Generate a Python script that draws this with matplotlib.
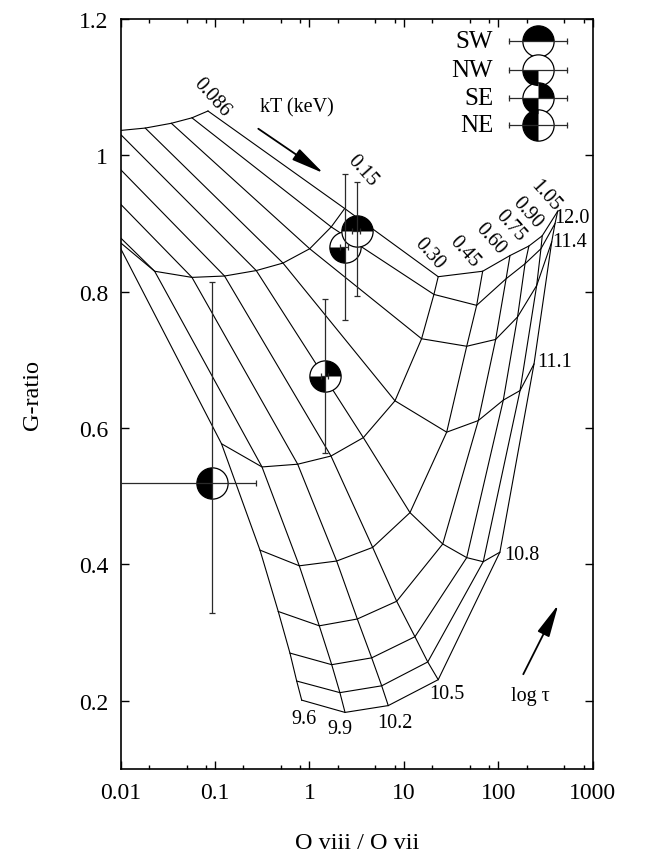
import matplotlib
matplotlib.use('Agg')
import matplotlib.pyplot as plt
from matplotlib.path import Path
from matplotlib.ticker import FixedLocator, FixedFormatter, LogLocator, NullFormatter

plt.rcParams['font.family'] = ['Liberation Serif', 'DejaVu Serif']

# NEI model grid: rows = kT (keV), columns = log tau
kT_labels = ['0.086', '0.15', '0.30', '0.45', '0.60', '0.75', '0.90', '1.05']
logtau = [9.6, 9.9, 10.2, 10.5, 10.8, 11.1, 11.4, 11.7, 12.0]
logtau_labels = ['9.6', '9.9', '10.2', '10.5', '10.8', '11.1', '11.4', '', '12.0']

# O VIII / O VII ratio at each grid node
model_ratio = [
    [0.00228, 0.00473, 0.00534, 0.00604, 0.00914, 0.0182, 0.0344, 0.0569, 0.0841],
    [0.00881, 0.0229, 0.0569, 0.126, 0.273, 0.524, 1.005, 1.70, 2.36],
    [0.117, 0.314, 0.750, 1.69, 3.72, 8.05, 15.4, 20.8, 23.1],
    [0.299, 0.780, 1.94, 4.67, 11.6, 28.4, 46.3, 59.0, 68.3],
    [0.467, 1.27, 3.21, 8.39, 25.8, 61.4, 93.8, 121.0, 133.0],
    [0.621, 1.72, 4.56, 13.1, 46.3, 113.0, 160.0, 192.0, 211.0],
    [0.732, 2.10, 5.82, 17.9, 69.3, 170.0, 255.0, 283.0, 292.0],
    [0.827, 2.38, 6.83, 23.1, 104.0, 239.0, 368.0, 399.0, 426.0],
]
# G-ratio at each grid node
model_g = [
    [0.900, 0.923, 0.967, 1.010, 1.036, 1.040, 1.047, 1.055, 1.065],
    [0.878, 0.830, 0.821, 0.823, 0.831, 0.842, 0.863, 0.895, 0.922],
    [0.577, 0.543, 0.547, 0.559, 0.586, 0.640, 0.731, 0.796, 0.822],
    [0.421, 0.398, 0.405, 0.425, 0.476, 0.594, 0.720, 0.780, 0.830],
    [0.331, 0.310, 0.320, 0.346, 0.430, 0.611, 0.730, 0.819, 0.853],
    [0.270, 0.253, 0.263, 0.294, 0.410, 0.641, 0.763, 0.841, 0.867],
    [0.229, 0.212, 0.222, 0.257, 0.404, 0.655, 0.809, 0.863, 0.882],
    [0.201, 0.183, 0.193, 0.231, 0.418, 0.694, 0.873, 0.900, 0.918],
]

# observed regions
regions = ['SW', 'NW', 'SE', 'NE']
obs_ratio = [3.16, 2.38, 1.46, 0.093]
obs_ratio_lo = [2.80, 2.10, 1.34, 0.004]
obs_ratio_hi = [3.43, 2.58, 1.58, 0.269]
obs_g = [0.889, 0.866, 0.677, 0.520]
obs_g_lo = [0.794, 0.759, 0.564, 0.329]
obs_g_hi = [0.961, 0.973, 0.789, 0.814]
# filled parts of each symbol (wedge angles in degrees)
region_fill = {
    'SW': [(0, 180)],
    'NW': [(180, 270)],
    'SE': [(0, 90), (180, 270)],
    'NE': [(90, 270)],
}

MS = 22.5
ECOL = '#2a2a2a'


def draw_symbol(ax, x, y, name, z, **kw):
    ax.plot([x], [y], 'o', ms=MS, mfc='white', mec='black', mew=0.9,
            zorder=z, **kw)
    for t1, t2 in region_fill[name]:
        ax.plot([x], [y], marker=Path.wedge(t1, t2), ms=MS, color='black',
                mew=0, ls='none', zorder=z + 0.1, **kw)


fig = plt.figure(figsize=(6.45, 8.53), dpi=100)
ax = fig.add_axes([0.1871, 0.0973, 0.7318, 0.8793])
ax.set_xscale('log')
ax.set_xlim(0.01, 1000)
ax.set_ylim(0.1, 1.2)

# grid lines: constant kT and constant tau
for i in range(len(kT_labels)):
    ax.plot(model_ratio[i], model_g[i], color='black', lw=0.8, zorder=2)
for j in range(len(logtau)):
    xs = [row[j] for row in model_ratio]
    ys = [row[j] for row in model_g]
    ax.plot(xs, ys, color='black', lw=0.8, zorder=2)

# kT labels along the equilibrium edge
kT_text_pos = [(0.0927, 1.086), (3.60, 0.979), (18.5, 0.856), (43.3, 0.860),
               (81.7, 0.878), (133, 0.897), (201, 0.917), (313, 0.942)]
for lab, (tx, ty) in zip(kT_labels, kT_text_pos):
    ax.text(tx, ty, lab, fontsize=14.5, rotation=-48, ha='center', va='center',
            rotation_mode='anchor')

# log tau labels along the hottest curve
tau_text_pos = [(0.875, 0.174), (2.10, 0.160), (8.05, 0.168), (28.4, 0.21),
                (177, 0.414), (399, 0.697), (575, 0.873), None, (600, 0.909)]
for lab, pos in zip(logtau_labels, tau_text_pos):
    if pos is None:
        continue
    ax.text(pos[0], pos[1], lab, fontsize=14.5, ha='center', va='center')

# arrows and their captions
ax.annotate('', xy=(1.40, 0.974), xytext=(0.287, 1.039),
            arrowprops=dict(arrowstyle='-|>,head_length=1.0,head_width=0.2',
                            mutation_scale=20, color='black', lw=1.3,
                            shrinkA=0, shrinkB=0))
ax.text(0.738, 1.071, 'kT (keV)', fontsize=14.5, ha='center', va='center')
ax.annotate('', xy=(432, 0.341), xytext=(184, 0.239),
            arrowprops=dict(arrowstyle='-|>,head_length=1.0,head_width=0.2',
                            mutation_scale=20, color='black', lw=1.3,
                            shrinkA=0, shrinkB=0))
ax.text(217, 0.2085, 'log τ', fontsize=14.5, ha='center', va='center')

# data points (drawn so that SW ends on top)
order = ['NE', 'SE', 'NW', 'SW']
for k, name in enumerate(order):
    i = regions.index(name)
    draw_symbol(ax, obs_ratio[i], obs_g[i], name, 5 + k)
for i in range(len(regions)):
    ax.errorbar([obs_ratio[i]], [obs_g[i]],
                xerr=[[obs_ratio[i] - obs_ratio_lo[i]], [obs_ratio_hi[i] - obs_ratio[i]]],
                yerr=[[obs_g[i] - obs_g_lo[i]], [obs_g_hi[i] - obs_g[i]]],
                fmt='none', ecolor=ECOL, elinewidth=0.9, capsize=2.5,
                capthick=0.9, zorder=10)

# legend drawn by hand
leg_y = [0.970, 0.932, 0.895, 0.858]
for name, ly in zip(regions, leg_y):
    ax.text(0.789, ly, name, transform=ax.transAxes, fontsize=18,
            ha='right', va='center')
    draw_symbol(ax, 0.884, ly, name, 12, transform=ax.transAxes, clip_on=False)
    ax.plot([0.822, 0.945], [ly, ly], color=ECOL, lw=0.9,
            transform=ax.transAxes, zorder=14)
    ax.plot([0.822, 0.945], [ly, ly], ls='none', marker='|', ms=5, mew=0.9,
            color=ECOL, transform=ax.transAxes, zorder=14)

# axes cosmetics
ax.xaxis.set_major_locator(FixedLocator([0.01, 0.1, 1, 10, 100, 1000]))
ax.xaxis.set_major_formatter(FixedFormatter(['0.01', '0.1', '1', '10', '100', '1000']))
ax.xaxis.set_minor_locator(LogLocator(base=10, subs=[2, 5, 8]))
ax.xaxis.set_minor_formatter(NullFormatter())
ax.yaxis.set_major_locator(FixedLocator([0.2, 0.4, 0.6, 0.8, 1.0, 1.2]))
ax.yaxis.set_major_formatter(FixedFormatter(['0.2', '0.4', '0.6', '0.8', '1', '1.2']))
ax.tick_params(which='both', direction='in', top=True, right=True,
               labelsize=17, width=1.0)
ax.tick_params(which='major', length=5.5, pad=9)
ax.tick_params(which='minor', length=3)
for sp in ax.spines.values():
    sp.set_linewidth(1.2)

ax.set_xlabel('O viii / O vii', fontsize=17.5)
ax.set_ylabel('G-ratio', fontsize=17.5)
ax.xaxis.set_label_coords(0.5, -0.084)
ax.yaxis.set_label_coords(-0.165, 0.5)

fig.savefig('out.png', dpi=100)
